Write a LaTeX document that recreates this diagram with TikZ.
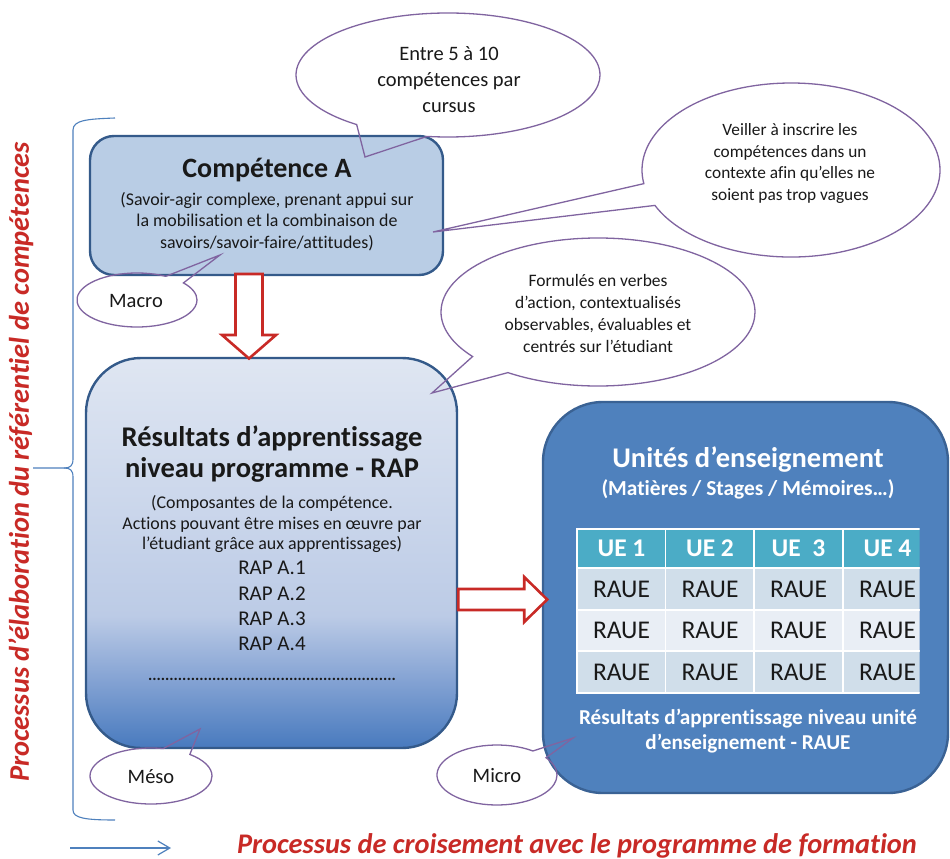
\documentclass[tikz,border=0pt]{standalone}
\usepackage{fontspec}
\setmainfont{Carlito}[Ligatures=NoCommon]
\usetikzlibrary{shapes.callouts,arrows.meta,calc}
\definecolor{txt}{RGB}{25,25,25}
\definecolor{redc}{RGB}{200,42,38}
\definecolor{calloutc}{RGB}{128,100,160}
\definecolor{bluec}{RGB}{79,129,189}
\definecolor{compfill}{RGB}{185,205,229}
\definecolor{boxborder}{RGB}{52,90,138}
\definecolor{uefill}{RGB}{79,129,189}
\definecolor{ueborder}{RGB}{58,98,148}
\definecolor{hdrc}{RGB}{75,172,198}
\definecolor{rowA}{RGB}{208,222,234}
\definecolor{rowB}{RGB}{233,238,245}
\definecolor{rapA}{RGB}{72,122,190}
\definecolor{rapB}{RGB}{134,164,212}
\definecolor{rapC}{RGB}{188,203,230}
\definecolor{rapD}{RGB}{223,230,242}
\pgfdeclareverticalshading{rapshade}{100bp}{color(0bp)=(rapA); color(25bp)=(rapA); color(34bp)=(rapB); color(42bp)=(rapC); color(75bp)=(rapD); color(100bp)=(rapD)}
\tikzset{
  callout/.style={ellipse callout, draw=calloutc, line width=1.3pt, inner sep=0pt},
  ctext/.style={align=center, text=txt, inner sep=0pt},
  redarrow/.style={draw=redc, fill=white, line width=2.6pt, line join=miter},
  cell/.style={draw=white, line width=1.6pt, minimum width=89pt, inner sep=0pt, text=txt, font=\fontsize{25.5}{27}\selectfont},
  hdr/.style={cell, fill=hdrc, text=white, font=\bfseries\fontsize{25.5}{27}\selectfont},
  redtext/.style={text=redc, font=\bfseries\itshape\fontsize{28.4}{31}\selectfont, inner sep=0pt}
}
\begin{document}
\begin{tikzpicture}[x=1pt,y=-1pt]
\useasboundingbox (0,0) rectangle (950,859);
\fill[white] (0,0) rectangle (950,859);

% left bracket
\draw[bluec, line width=1.1pt] (115,118) .. controls (88,119) and (73,120) .. (73,130) -- (73,459)
  .. controls (73,466) and (70,468) .. (64,468) -- (33,468);
\draw[bluec, line width=1.1pt] (64,468) .. controls (70,468) and (73,470) .. (73,477) -- (73,810)
  .. controls (73,818) and (85,820) .. (115,820);

% vertical and bottom captions
\node[redtext, rotate=90] (vtext) at (21,462) {Processus d’élaboration du référentiel de compétences};
\coordinate (ba1) at (70,848);
\coordinate (ba2) at (171,848);
\draw[bluec, line width=1.2pt, -{Straight Barb[length=12pt,width=14pt]}] (ba1) -- (ba2);
\node[redtext] (htext) at (577,846) {Processus de croisement avec le programme de formation};

% Competence A box
\node[draw=boxborder, line width=2.4pt, fill=compfill, rounded corners=24pt,
      minimum width=353pt, minimum height=139pt] (comp) at (266.5,205.5) {};
\node[text=txt, font=\bfseries\fontsize{28}{31}\selectfont, inner sep=0pt] (compT) at (267,170) {Compétence A};
\node[ctext, font=\fontsize{17.9}{21.5}\selectfont] (compS) at (267,221.5)
  {(Savoir-agir complexe, prenant appui sur\\la mobilisation et la combinaison de\\savoirs/savoir-faire/attitudes)};

% RAP box
\node[draw=boxborder, line width=2.4pt, shading=rapshade, rounded corners=55pt,
      minimum width=371pt, minimum height=390pt] (rap) at (271.5,553) {};
\node[ctext, font=\bfseries\fontsize{28.5}{31}\selectfont] (rapT) at (272,454)
  {Résultats d’apprentissage\\niveau programme - RAP};
\node[ctext, font=\fontsize{17.9}{20.5}\selectfont] (rapS) at (272,524)
  {(Composantes de la compétence.\\Actions pouvant être mises en œuvre par\\l’étudiant grâce aux apprentissages)};
\node[ctext, font=\fontsize{21}{25.3}\selectfont] (rapL) at (272,606)
  {RAP A.1\\RAP A.2\\RAP A.3\\RAP A.4};
\node[ctext, font=\bfseries\fontsize{16}{18}\selectfont] (rapD) at (272,679)
  {..........................................................};

% UE box
\node[draw=ueborder, line width=2.4pt, fill=uefill, rounded corners=60pt,
      minimum width=405pt, minimum height=391pt] (ue) at (745.5,597.5) {};
\node[text=white, font=\bfseries\fontsize{28.5}{30}\selectfont, inner sep=0pt] (ueT) at (748,460) {Unités d’enseignement};
\node[text=white, font=\bfseries\fontsize{21.4}{23}\selectfont, inner sep=0pt] (ueS) at (748,489) {(Matières / Stages / Mémoires…)};
\begin{scope}
\clip (576,527) rectangle (919.5,695);
\foreach \c/\t [count=\i] in {621.5/UE 1, 710/UE 2, 798.5/UE~~3, 887.5/UE 4} {
  \node[hdr, minimum height=39pt] (h\i) at (\c,548.5) {\t};
  \node[cell, fill=rowA, minimum height=41.5pt] (ra\i) at (\c,589) {RAUE};
  \node[cell, fill=rowB, minimum height=41.5pt] (rb\i) at (\c,630.5) {RAUE};
  \node[cell, fill=rowA, minimum height=41.5pt] (rc\i) at (\c,672) {RAUE};
}
\end{scope}
\node[ctext, text=white, font=\bfseries\fontsize{21.2}{25}\selectfont] (ueB) at (748,731)
  {Résultats d’apprentissage niveau unité\\d’enseignement - RAUE};

% red block arrows
\coordinate (dA) at (248.5,274);
\draw[redarrow] (dA) ++(-13,0) -- ++(0,61) -- ++(-13.5,0) -- ++(27,23.5) -- ++(27,-23.5) -- ++(-13.5,0) -- ++(0,-61) -- cycle;
\coordinate (rA) at (rap.east |- 0,599.5);
\draw[redarrow] (rA) ++(0,-10.5) -- ++(66,0) -- ++(0,-12) -- ++(23,22.5) -- ++(-23,22.5) -- ++(0,-12) -- ++(-66,0) -- cycle;

% callouts
\node[callout, minimum width=304pt, minimum height=124pt, callout absolute pointer={(365,157)}, callout pointer arc=29] (entre) at (448,75) {};
\node[ctext, font=\fontsize{20.5}{26}\selectfont] (entreT) at (449,80) {Entre 5 à 10\\compétences par\\cursus};

\node[callout, minimum width=298pt, minimum height=174pt, callout absolute pointer={(433,232)}, callout pointer arc=15] (veil) at (791,170) {};
\node[ctext, font=\fontsize{17.3}{21.5}\selectfont] (veilT) at (790,163.5) {Veiller à inscrire les\\compétences dans un\\contexte afin qu’elles ne\\soient pas trop vagues};

\node[callout, minimum width=314pt, minimum height=148pt, callout absolute pointer={(432,393)}, callout pointer arc=18] (form) at (598,312) {};
\node[ctext, font=\fontsize{17.5}{21.7}\selectfont] (formT) at (598,313.5) {Formulés en verbes\\d’action, contextualisés\\observables, évaluables et\\centrés sur l’étudiant};

\node[callout, minimum width=120pt, minimum height=54pt, callout absolute pointer={(220,255)}, callout pointer arc=22] (macro) at (137,300) {};
\node[ctext, font=\fontsize{20.5}{22}\selectfont] (macroT) at (136,301) {Macro};

\node[callout, minimum width=122pt, minimum height=56pt, callout absolute pointer={(200,729)}, callout pointer arc=28] (meso) at (151,776) {};
\node[ctext, font=\fontsize{20.5}{22}\selectfont] (mesoT) at (151,777) {Méso};

\node[callout, minimum width=120pt, minimum height=60pt, callout absolute pointer={(573,738)}, callout pointer arc=18] (micro) at (497,775) {};
\node[ctext, font=\fontsize{20.5}{22}\selectfont] (microT) at (497,776) {Micro};
\end{tikzpicture}
\end{document}
